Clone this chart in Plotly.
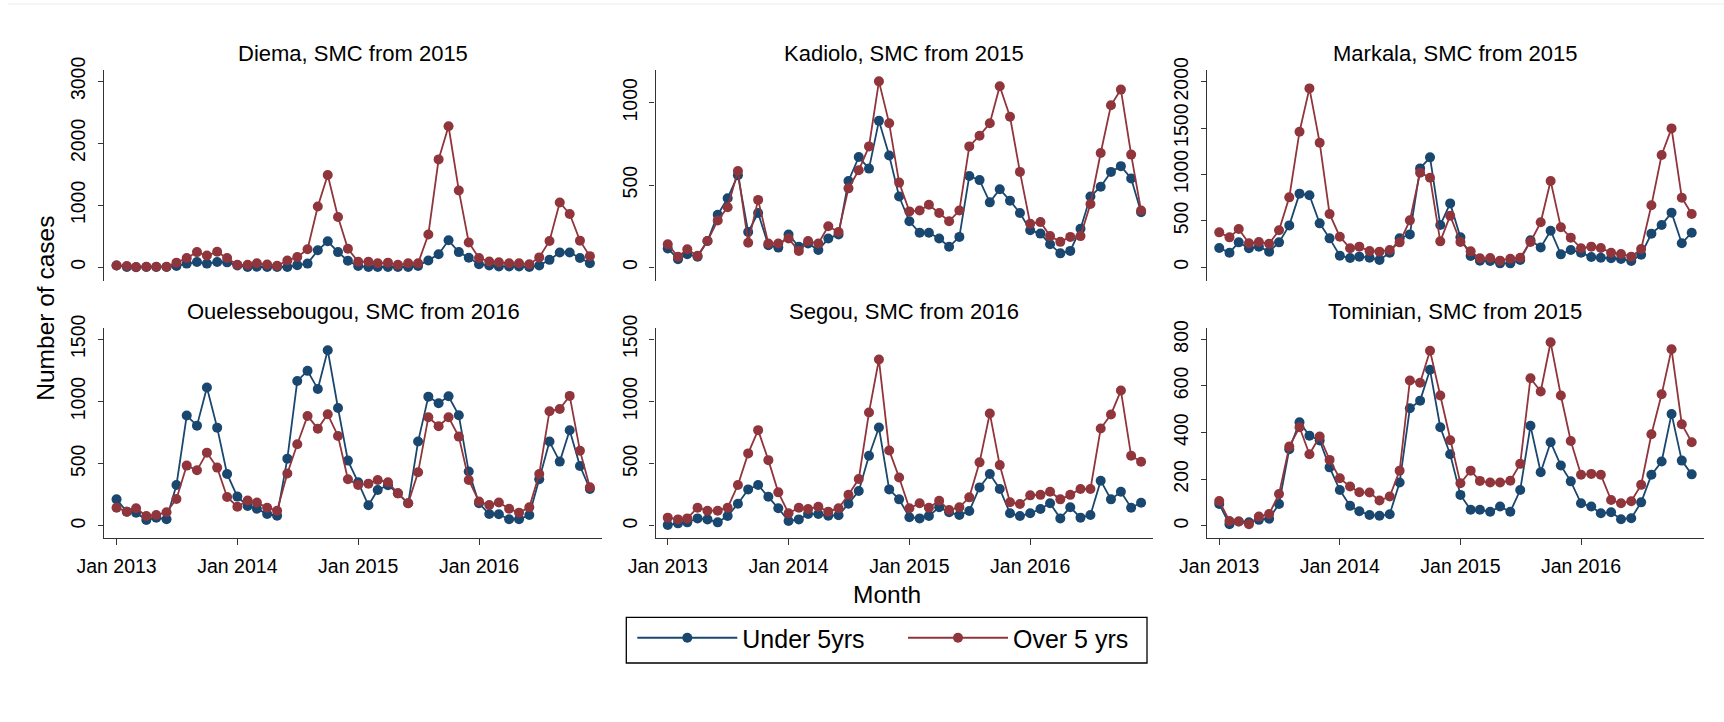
import plotly.graph_objects as go
import pandas as pd

months = pd.date_range("2013-01-01", periods=48, freq="MS")

titles = ["Diema, SMC from 2015", "Kadiolo, SMC from 2015", "Markala, SMC from 2015",
          "Ouelessebougou, SMC from 2016", "Segou, SMC from 2016", "Tominian, SMC from 2015"]

diema_u5 = [30, 5, 0, 5, 5, 5, 20, 60, 85, 60, 85, 80,
            30, 5, 10, 5, 5, 5, 35, 60, 275, 420, 245, 105,
            20, 5, 5, 5, 5, 5, 20, 110, 210, 435, 245, 155,
            50, 30, 15, 15, 15, 5, 30, 120, 240, 240, 150, 65]
diema_o5 = [30, 20, 5, 10, 10, 10, 75, 150, 245, 190, 250, 150,
            40, 40, 65, 45, 25, 110, 165, 290, 980, 1490, 810, 300,
            90, 90, 65, 75, 40, 65, 65, 530, 1740, 2275, 1240, 400,
            150, 95, 80, 65, 65, 50, 160, 425, 1045, 860, 430, 180]

kadiolo_u5 = [115, 50, 80, 65, 160, 320, 420, 560, 215, 330, 135, 120,
              200, 125, 145, 105, 175, 200, 525, 670, 600, 890, 680, 430,
              280, 210, 210, 175, 125, 185, 555, 530, 395, 475, 405, 330,
              225, 205, 140, 85, 100, 235, 430, 490, 580, 615, 540, 335]
kadiolo_o5 = [140, 65, 110, 70, 160, 285, 365, 585, 150, 410, 145, 145,
              175, 100, 160, 145, 250, 215, 480, 590, 735, 1130, 875, 515,
              340, 345, 380, 330, 280, 345, 735, 800, 875, 1100, 915, 580,
              265, 275, 190, 155, 185, 190, 385, 695, 985, 1080, 685, 345]

markala_u5 = [208, 158, 269, 205, 223, 169, 269, 452, 794, 776, 474, 312,
              126, 100, 115, 104, 79, 158, 312, 355, 1066, 1185, 456, 689,
              323, 122, 72, 68, 43, 43, 79, 291, 215, 395, 140, 187,
              158, 111, 104, 97, 90, 68, 136, 363, 456, 589, 259, 373]
markala_o5 = [377, 323, 413, 259, 273, 255, 399, 754, 1461, 1928, 1343, 575,
              330, 205, 223, 176, 169, 187, 269, 506, 1020, 966, 280, 557,
              273, 172, 97, 100, 72, 93, 104, 273, 485, 930, 431, 320,
              205, 223, 208, 158, 144, 115, 197, 668, 1210, 1497, 750, 575]

ouele_u5 = [214, 115, 107, 48, 67, 54, 329, 887, 806, 1112, 790, 418,
            236, 161, 139, 96, 83, 541, 1165, 1246, 1101, 1412, 948, 525,
            351, 166, 289, 327, 262, 182, 678, 1039, 986, 1042, 889, 437,
            182, 96, 94, 54, 54, 88, 375, 678, 517, 769, 482, 297]
ouele_o5 = [147, 115, 142, 80, 88, 110, 217, 485, 447, 589, 469, 233,
            155, 204, 188, 147, 123, 421, 656, 884, 782, 897, 723, 375,
            329, 340, 370, 351, 262, 182, 431, 873, 801, 873, 718, 370,
            196, 169, 188, 139, 107, 150, 418, 922, 940, 1045, 605, 311]

segou_u5 = [8, 21, 29, 61, 53, 29, 80, 179, 294, 329, 235, 142,
            40, 53, 96, 96, 83, 86, 179, 281, 564, 791, 294, 214,
            70, 61, 80, 150, 110, 88, 120, 310, 417, 297, 102, 80,
            102, 136, 182, 61, 150, 67, 88, 364, 214, 275, 147, 187]
segou_o5 = [67, 53, 61, 147, 123, 123, 147, 329, 583, 770, 529, 270,
            102, 147, 136, 155, 115, 142, 251, 377, 912, 1337, 607, 390,
            142, 182, 147, 203, 128, 150, 230, 511, 904, 489, 190, 176,
            246, 250, 275, 214, 250, 297, 297, 783, 896, 1088, 564, 516]

tominian_u5 = [94, 7, 19, 16, 26, 31, 94, 329, 444, 387, 366, 251,
               154, 86, 63, 47, 44, 50, 186, 504, 537, 669, 423, 307,
               133, 69, 69, 61, 83, 61, 154, 429, 230, 359, 259, 191,
               97, 83, 54, 59, 29, 33, 101, 219, 276, 480, 280, 221]
tominian_o5 = [107, 21, 19, 7, 40, 51, 137, 340, 423, 307, 383, 283,
               204, 169, 144, 143, 109, 126, 237, 623, 614, 751, 559, 367,
               183, 237, 193, 186, 186, 194, 266, 633, 576, 787, 559, 364,
               219, 223, 219, 111, 97, 106, 176, 393, 564, 757, 436, 359]

under5 = [diema_u5, kadiolo_u5, markala_u5, ouele_u5, segou_u5, tominian_u5]
over5 = [diema_o5, kadiolo_o5, markala_o5, ouele_o5, segou_o5, tominian_o5]

ytick_sets = [[0, 1000, 2000, 3000], [0, 500, 1000], [0, 500, 1000, 1500, 2000],
              [0, 500, 1000, 1500], [0, 500, 1000, 1500], [0, 200, 400, 600, 800]]
yranges = [[-216, 3182], [-81, 1199], [-144, 2126], [-99, 1588], [-99, 1588], [-53, 847]]

xtick_vals = ["2013-01-01", "2014-01-01", "2015-01-01", "2016-01-01"]
xtick_text = ["Jan 2013", "Jan 2014", "Jan 2015", "Jan 2016"]
series_names = ["Under 5yrs", "Over 5 yrs"]

BLUE = "#1a476f"
RED = "#90353b"
W, H = 1724, 722
FONT = "Liberation Sans, Arial, sans-serif"

col_px = [(104.3, 601.8), (655.5, 1153.0), (1207.0, 1703.6)]
row_px = [(70.0, 280.7), (328.3, 538.3)]

fig = go.Figure()
layout = {}
for i in range(6):
    r, c = divmod(i, 3)
    n = i + 1
    xa = "xaxis" if n == 1 else f"xaxis{n}"
    ya = "yaxis" if n == 1 else f"yaxis{n}"
    xref = "x" if n == 1 else f"x{n}"
    yref = "y" if n == 1 else f"y{n}"
    for k, (vals, name, color) in enumerate([(under5[i], series_names[0], BLUE),
                                             (over5[i], series_names[1], RED)]):
        fig.add_trace(go.Scatter(
            x=months, y=vals, mode="lines+markers", name=name,
            line=dict(color=color, width=1.8),
            marker=dict(color=color, size=10),
            xaxis=xref, yaxis=yref, showlegend=(i == 0), legendgroup=name,
            legend="legend" if k == 0 else "legend2"))
    x0, x1 = col_px[c]
    y0, y1 = row_px[r]
    bottom = (r == 1)
    layout[xa] = dict(
        domain=[x0 / W, x1 / W], anchor=yref, automargin=False,
        range=["2012-11-25", "2017-01-06"],
        tickvals=xtick_vals, ticktext=xtick_text,
        showticklabels=bottom, ticks="outside" if bottom else "",
        ticklen=6, tickwidth=1.3, tickcolor="#333333",
        showline=bottom, linecolor="#333333", linewidth=1.3,
        showgrid=False, zeroline=False, ticklabelstandoff=4,
        tickfont=dict(size=19.5, color="black", family=FONT))
    layout[ya] = dict(
        domain=[1 - y1 / H, 1 - y0 / H], anchor=xref, automargin=False,
        range=yranges[i], tickvals=ytick_sets[i],
        ticks="outside", ticklen=5, tickwidth=1.3, tickcolor="#333333",
        showline=True, linecolor="#333333", linewidth=1.3,
        showgrid=False, zeroline=False, tickangle=-90,
        ticklabelstandoff=5,
        tickfont=dict(size=19.5, color="black", family=FONT))

annotations = []
title_y = [54, 311.7]
for i, t in enumerate(titles):
    r, c = divmod(i, 3)
    x0, x1 = col_px[c]
    annotations.append(dict(text=t, x=(x0 + x1) / 2 / W, y=1 - title_y[r] / H,
                            xref="paper", yref="paper", showarrow=False,
                            xanchor="center", yanchor="middle",
                            font=dict(size=22, color="black", family=FONT)))
annotations.append(dict(text="Month", x=886.7 / W, y=1 - 594 / H, xref="paper", yref="paper",
                        showarrow=False, xanchor="center", yanchor="middle",
                        font=dict(size=24.5, color="black", family=FONT)))
annotations.append(dict(text="Number of cases", x=45.7 / W, y=1 - 308 / H, xref="paper", yref="paper",
                        showarrow=False, xanchor="center", yanchor="middle", textangle=-90,
                        font=dict(size=24.5, color="black", family=FONT)))

leg_common = dict(orientation="h", yanchor="middle", y=1 - 638 / H, xanchor="left",
                  borderwidth=0, bgcolor="rgba(0,0,0,0)", itemwidth=100,
                  font=dict(size=25, color="black", family=FONT))

shapes = [
    dict(type="rect", xref="paper", yref="paper", x0=626.3 / W, x1=1147 / W,
         y0=1 - 663 / H, y1=1 - 617.3 / H, line=dict(color="black", width=1.3),
         fillcolor="rgba(0,0,0,0)", layer="below"),
    dict(type="line", xref="paper", yref="paper", x0=8 / W, x1=1, y0=1 - 4 / H, y1=1 - 4 / H,
         line=dict(color="#ececec", width=1)),
]

fig.update_layout(
    **layout,
    annotations=annotations,
    shapes=shapes,
    width=W, height=H,
    margin=dict(l=0, r=0, t=0, b=0, autoexpand=False),
    paper_bgcolor="white", plot_bgcolor="white",
    legend=dict(x=632.3 / W, **leg_common),
    legend2=dict(x=903 / W, **leg_common),
)
fig.write_html("out.html", config={"displayModeBar": False},
               post_script="document.body.style.margin='0';")
